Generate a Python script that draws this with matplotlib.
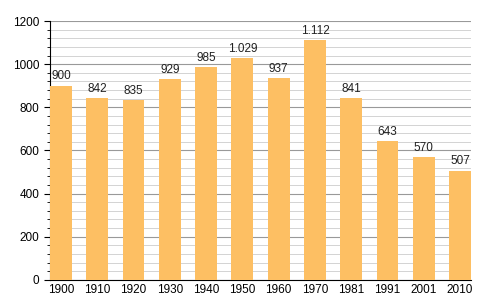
import matplotlib.pyplot as plt
from matplotlib.ticker import MultipleLocator

plt.rcParams['font.family'] = ['Liberation Sans', 'DejaVu Sans']

years = ['1900', '1910', '1920', '1930', '1940', '1950', '1960', '1970', '1981', '1991', '2001', '2010']
population = [900, 842, 835, 929, 985, 1029, 937, 1112, 841, 643, 570, 507]
value_labels = ['900', '842', '835', '929', '985', '1.029', '937', '1.112', '841', '643', '570', '507']

fig = plt.figure(figsize=(5, 3), dpi=100)
ax = fig.add_axes([0.1, 0.067, 0.842, 0.863])

x = list(range(len(years)))
ax.bar(x, population, width=0.6, color='#fdbf63', zorder=3)
for xi, v, lab in zip(x, population, value_labels):
    ax.text(xi, v + 15, lab, ha='center', va='bottom', fontsize=8.5, color='#222222', zorder=4)

ax.set_xlim(-0.3, len(years) - 0.7)
ax.set_ylim(0, 1200)
ax.yaxis.set_major_locator(MultipleLocator(200))
ax.yaxis.set_minor_locator(MultipleLocator(40))
ax.grid(which='major', axis='y', color='#999999', linewidth=0.8, zorder=1)
ax.grid(which='minor', axis='y', color='#cccccc', linewidth=0.6, zorder=1)

ax.set_xticks(x)
ax.set_xticklabels(years)
ax.tick_params(axis='x', length=0, labelsize=8.5, pad=3)
ax.tick_params(axis='y', which='major', length=4, labelsize=8.5, direction='out')
ax.tick_params(axis='y', which='minor', length=2, direction='out')

for s in ['top', 'right']:
    ax.spines[s].set_visible(False)
ax.spines['left'].set_color('black')
ax.spines['bottom'].set_color('black')

fig.savefig('out.png', dpi=100)
